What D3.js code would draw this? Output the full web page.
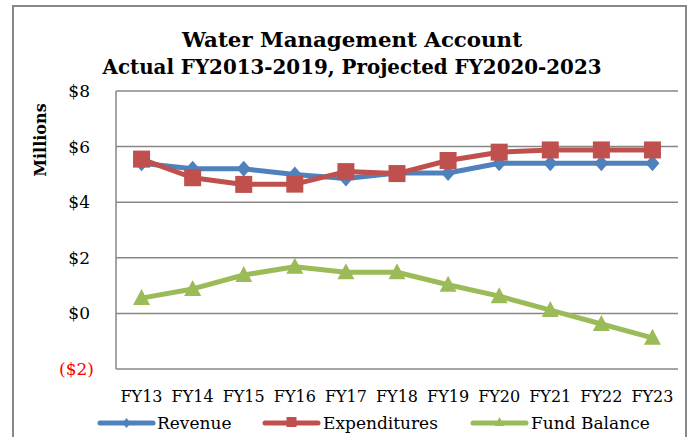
<!DOCTYPE html>
<html><head><meta charset="utf-8">
<script src="https://cdn.jsdelivr.net/npm/d3@7"></script>
<style>body{margin:0;background:#fff}svg{display:block}</style>
</head><body>
<script>
const categories = ["FY13","FY14","FY15","FY16","FY17","FY18","FY19","FY20","FY21","FY22","FY23"];
const revenue = [5.4,5.2,5.2,5.0,4.85,5.05,5.05,5.4,5.4,5.4,5.4];
const expenditures = [5.55,4.88,4.64,4.65,5.1,5.03,5.5,5.8,5.88,5.88,5.88];
const fundBalance = [0.55,0.88,1.38,1.68,1.48,1.48,1.03,0.62,0.12,-0.38,-0.88];
const yTicks = [-2,0,2,4,6,8];
const seriesNames = ["Revenue","Expenditures","Fund Balance"];
const colors = ["#4F81BD","#C0504D","#9BBB59"];

const W=687,H=437;
const svg=d3.select("body").append("svg").attr("width",W).attr("height",H);
svg.append("rect").attr("x",13).attr("y",6).attr("width",673).attr("height",440)
  .attr("fill","#fff").attr("stroke","#888").attr("stroke-width",2);

const font="'DejaVu Serif', serif";
svg.append("text").attr("x",352).attr("y",47).attr("text-anchor","middle")
  .attr("font-family",font).attr("font-weight","bold").attr("font-size",21)
  .attr("textLength",340).attr("lengthAdjust","spacingAndGlyphs")
  .text("Water Management Account");
svg.append("text").attr("x",352).attr("y",74).attr("text-anchor","middle")
  .attr("font-family",font).attr("font-weight","bold").attr("font-size",21)
  .attr("textLength",499).attr("lengthAdjust","spacingAndGlyphs")
  .text("Actual FY2013-2019, Projected FY2020-2023");

const L=116,R=678,T=91,B=369;
const x=d3.scaleBand().domain(categories).range([L,R]);
const y=d3.scaleLinear().domain([-2,8]).range([B,T]);

// gridlines
svg.append("g").selectAll("line").data(yTicks).join("line")
  .attr("x1",L).attr("x2",R).attr("y1",d=>y(d)).attr("y2",d=>y(d))
  .attr("stroke","#878787").attr("stroke-width",1.5);
svg.append("line").attr("x1",L).attr("x2",L).attr("y1",T).attr("y2",B)
  .attr("stroke","#878787").attr("stroke-width",1.5);

// y labels
svg.append("g").selectAll("text").data(yTicks).join("text")
  .attr("x",d=>d<0?94:90).attr("y",d=>y(d)+6).attr("text-anchor","end")
  .attr("font-family",font).attr("font-size",17)
  .attr("fill",d=>d<0?"#FF0000":"#000")
  .text(d=>d<0?"($"+Math.abs(d)+")":"$"+d);

svg.append("text").attr("transform","translate(46,140) rotate(-90)")
  .attr("text-anchor","middle").attr("font-family",font).attr("font-weight","bold")
  .attr("font-size",16).text("Millions");

// x labels
svg.append("g").selectAll("text").data(categories).join("text")
  .attr("x",d=>x(d)+x.bandwidth()/2).attr("y",402).attr("text-anchor","middle")
  .attr("font-family",font).attr("font-size",16).text(d=>d);

const cx=d=>x(d)+x.bandwidth()/2;
const data=[revenue,expenditures,fundBalance];
const shapes=[
  (g,px,py)=>g.append("path").attr("d",`M${px},${py-8}L${px+7},${py}L${px},${py+8}L${px-7},${py}Z`),
  (g,px,py)=>g.append("rect").attr("x",px-8.5).attr("y",py-8.5).attr("width",17).attr("height",17),
  (g,px,py)=>g.append("path").attr("d",`M${px},${py-9}L${px+8.5},${py+7}L${px-8.5},${py+7}Z`)
];
const line=d3.line().x((d,i)=>cx(categories[i])).y(d=>y(d));
data.forEach((vals,k)=>{
  const g=svg.append("g");
  g.append("path").attr("d",line(vals)).attr("fill","none").attr("stroke",colors[k])
    .attr("stroke-width",5).attr("stroke-linejoin","round");
  const mg=g.append("g").attr("fill",colors[k]);
  vals.forEach((v,i)=>shapes[k](mg,cx(categories[i]),y(v)));
});

// legend
const legX=[100,265,473], legTX=[157,323,531];
seriesNames.forEach((n,k)=>{
  const g=svg.append("g");
  g.append("line").attr("x1",legX[k]).attr("x2",legX[k]+53).attr("y1",423).attr("y2",423)
    .attr("stroke",colors[k]).attr("stroke-width",5).attr("stroke-linecap","round");
  const mx=legX[k]+26.5;
  const mg=g.append("g").attr("fill",colors[k]);
  if(k===0) mg.append("path").attr("d",`M${mx},${418}L${mx+4},${423}L${mx},${428}L${mx-4},${423}Z`);
  if(k===1) mg.append("rect").attr("x",mx-5).attr("y",417).attr("width",10).attr("height",10);
  if(k===2) mg.append("path").attr("d",`M${mx},${417}L${mx+5},${426}L${mx-5},${426}Z`);
  g.append("text").attr("x",legTX[k]).attr("y",429).attr("font-family",font)
    .attr("font-size",17).text(n);
});
</script>
</body></html>
